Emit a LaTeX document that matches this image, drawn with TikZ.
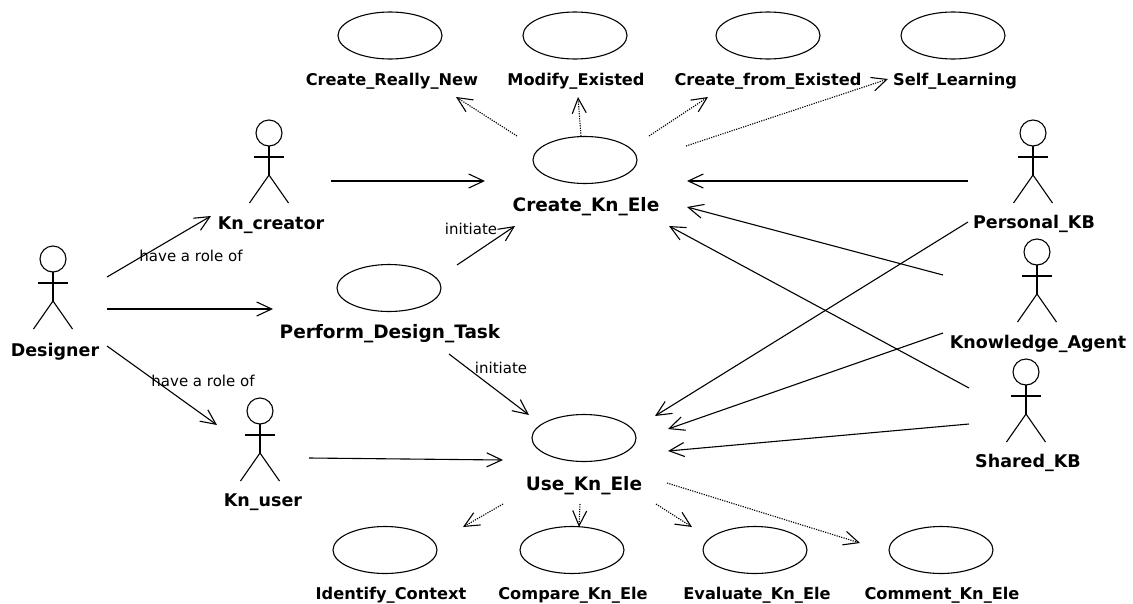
\documentclass[tikz,border=0pt]{standalone}
\usepackage{fontspec}
\setmainfont{DejaVu Sans}
\usetikzlibrary{arrows.meta,shapes.geometric}
\tikzset{
  usecase/.style={draw,ellipse,minimum width=104,minimum height=47,inner sep=0},
  ucname/.style={font=\fontsize{16.2}{18}\selectfont\bfseries,inner sep=0,text height=12,text depth=0},
  actorname/.style={ucname,font=\fontsize{17.5}{20}\selectfont\bfseries},
  mainname/.style={ucname,font=\fontsize{18.5}{20}\selectfont\bfseries},
  note/.style={font=\fontsize{15}{17}\selectfont,inner sep=0},
  assoc/.style={-{Straight Barb[length=15,width=14]}},
  dep/.style={assoc,dash pattern=on 1.2pt off 1.2pt},
  actor/.pic={
    \draw (0,0) circle [radius=13];
    \draw (0,13)--(0,42);
    \draw (-15,24)--(15,24);
    \draw (-19.5,70)--(0,42)--(19.5,70);
  }
}
\begin{document}
\begin{tikzpicture}[x=1pt,y=-1pt,line width=1.1pt]
\useasboundingbox (0,0) rectangle (1133,603);
% actors
\pic at (53,259) {actor};
\node[actorname] (designer) at (55,350) {Designer};
\pic at (269,133) {actor};
\node[actorname] (creator) at (271,223) {Kn\_creator};
\pic at (260,411) {actor};
\node[actorname] (user) at (263,500) {Kn\_user};
\pic at (1033,133) {actor};
\node[actorname] (personal) at (1034,222) {Personal\_KB};
\pic at (1037,252) {actor};
\node[actorname] (agent) at (1038,342) {Knowledge\_Agent};
\pic at (1026,372) {actor};
\node[actorname] (shared) at (1028,461) {Shared\_KB};
% use cases
\node[usecase] (really) at (390,35.5) {};
\node[ucname] (reallyname) at (392,79) {Create\_Really\_New};
\node[usecase] (modify) at (575,35.5) {};
\node[ucname] (modifyname) at (576,79) {Modify\_Existed};
\node[usecase] (from) at (768,35.5) {};
\node[ucname] (fromname) at (768,79) {Create\_from\_Existed};
\node[usecase] (self) at (953,35.5) {};
\node[ucname] (selfname) at (955,79) {Self\_Learning};
\node[usecase] (createele) at (585,160) {};
\node[mainname] (createname) at (586,205) {Create\_Kn\_Ele};
\node[usecase] (perform) at (389,288) {};
\node[mainname] (performname) at (390,332) {Perform\_Design\_Task};
\node[usecase] (useele) at (584,438) {};
\node[mainname] (usename) at (584,484) {Use\_Kn\_Ele};
\node[usecase] (identify) at (385,550) {};
\node[ucname] (identifyname) at (391,593) {Identify\_Context};
\node[usecase] (compare) at (572,550) {};
\node[ucname] (comparename) at (573,593) {Compare\_Kn\_Ele};
\node[usecase] (evaluate) at (755,550) {};
\node[ucname] (evaluatename) at (757,593) {Evaluate\_Kn\_Ele};
\node[usecase] (comment) at (941,550) {};
\node[ucname] (commentname) at (942,593) {Comment\_Kn\_Ele};
% associations
\draw[assoc] ([shift={(52,-73)}]designer.center)--([shift={(-60,-7)}]creator.center);
\draw[assoc] ([shift={(52,-41)}]designer.center)--([shift={(-116,21)}]perform.center);
\draw[assoc] ([shift={(52,-4)}]designer.center)--([shift={(-46,-75)}]user.center);
\draw[assoc] ([shift={(60,-42)}]creator.center)--([shift={(-100,21)}]createele.center);
\draw[assoc] ([shift={(68,-23)}]perform.center)--([shift={(-70,66)}]createele.center);
\draw[assoc] ([shift={(60,66)}]perform.center)--([shift={(-55,-23)}]useele.center);
\draw[assoc] ([shift={(46,-42)}]user.center)--([shift={(-81,22)}]useele.center);
\draw[assoc] ([shift={(-66,-41)}]personal.center)--([shift={(102,21)}]createele.center);
\draw[assoc] ([shift={(-95,-67)}]agent.center)--([shift={(102,47)}]createele.center);
\draw[assoc] ([shift={(-59,-73)}]shared.center)--([shift={(84,66)}]createele.center);
\draw[assoc] ([shift={(-66,0)}]personal.center)--([shift={(71,-22)}]useele.center);
\draw[assoc] ([shift={(-95,-9)}]agent.center)--([shift={(84,-9)}]useele.center);
\draw[assoc] ([shift={(-59,-37)}]shared.center)--([shift={(84,13)}]useele.center);
% dependencies
\draw[dep] ([shift={(-68,-24)}]createele.center)--([shift={(64,18)}]reallyname.center);
\draw[dep] ([shift={(-4,-24)}]createele.center)--([shift={(2,18)}]modifyname.center);
\draw[dep] ([shift={(64,-24)}]createele.center)--([shift={(-60,18)}]fromname.center);
\draw[dep] ([shift={(101,-14)}]createele.center)--([shift={(-67,0)}]selfname.center);
\draw[dep] ([shift={(-81,66)}]useele.center)--([shift={(78,-23)}]identify.center);
\draw[dep] ([shift={(-4,66)}]useele.center)--([shift={(7,-23)}]compare.center);
\draw[dep] ([shift={(72,66)}]useele.center)--([shift={(-63,-23)}]evaluate.center);
\draw[dep] ([shift={(83,45)}]useele.center)--([shift={(-81,-7)}]comment.center);
% roles
\node[note] (rolea) at (191,256) {have a role of};
\node[note] (roleb) at (203,381) {have a role of};
\node[note] (inita) at (471,229) {initiate};
\node[note] (initb) at (501,368) {initiate};
\end{tikzpicture}
\end{document}
